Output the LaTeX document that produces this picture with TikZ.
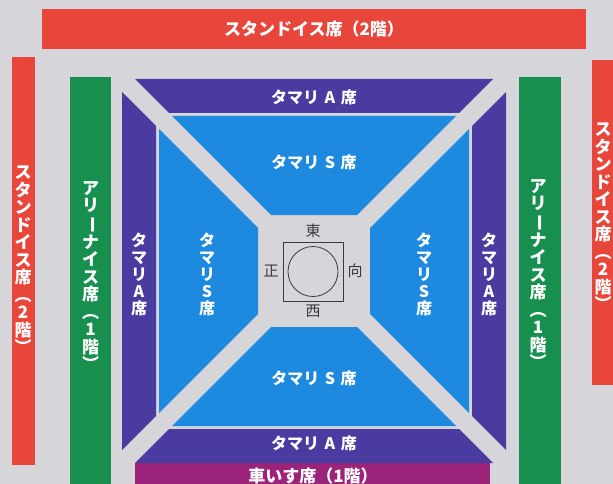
\documentclass[tikz,border=0pt]{standalone}
\usepackage{fontspec}
\newfontfamily\jp{Noto Sans CJK JP}
\definecolor{bg}{HTML}{D6D6DA}
\definecolor{stand}{HTML}{E8463B}
\definecolor{arena}{HTML}{17904F}
\definecolor{tamA}{HTML}{4A3BA1}
\definecolor{tamS}{HTML}{1D8ADF}
\definecolor{wheel}{HTML}{9B2379}
\definecolor{ring}{HTML}{3A3A3A}
\newcommand\cho{\rotatebox[origin=c]{-90}{ー}}
\begin{document}
\begin{tikzpicture}[x=1pt,y=-1pt,line join=round,
	lab/.style={text=white,inner sep=0,align=center,font=\jp\bfseries\fontsize{17}{17.5}\selectfont},
	tam/.style={lab,font=\jp\bfseries\fontsize{16}{17}\selectfont},
	dohyo/.style={text=ring,inner sep=0,font=\jp\fontsize{15}{15}\selectfont}]
	\clip (0,0) rectangle (613,484);
	\fill[bg] (0,0) rectangle (613,484);
	% stand, arena, wheelchair
	\fill[stand] (42,9) rectangle (586,49);
	\fill[stand] (12,57) rectangle (35,465);
	\fill[stand] (592,60) rectangle (620,385);
	\fill[arena] (70,77) rectangle (111,490);
	\fill[arena] (519,77) rectangle (561,490);
	\fill[wheel] (135,463) rectangle (490,490);
	% tamari blocks
	\begin{scope}[shift={(314,271)}]
		\foreach \a in {0,90,180,270}{
			\fill[tamA,rotate=\a] (-179,-192)--(179,-192)--(145,-158)--(-145,-158)--cycle;
			\fill[tamS,rotate=\a] (-142,-155)--(142,-155)--(43,-56)--(-43,-56)--cycle;
		}
	\end{scope}
	% dohyo
	\draw[ring,line width=.8pt] (283,242) rectangle (343,301);
	\draw[ring,line width=.8pt] (313,271.5) circle(25pt);
	\node[dohyo] (east) at (313,231) {東};
	\node[dohyo] (west) at (313,311) {西};
	\node[dohyo] (front) at (271,271) {正};
	\node[dohyo] (back) at (355,271) {向};
	% labels
	\node[lab] (standT) at (314,29) {スタンドイス席（2階）};
	\node[lab] (standL) at (23,260) {ス\\タ\\ン\\ド\\イ\\ス\\席\\︵\\2\\階\\︶};
	\node[lab] (standR) at (603,217) {ス\\タ\\ン\\ド\\イ\\ス\\席\\︵\\2\\階\\︶};
	\node[lab] (arenaL) at (90.5,276) {ア\\リ\\\cho\\ナ\\イ\\ス\\席\\︵\\1\\階\\︶};
	\node[lab] (arenaR) at (538,274) {ア\\リ\\\cho\\ナ\\イ\\ス\\席\\︵\\1\\階\\︶};
	\node[lab] (wheelB) at (313,476) {車いす席（1階）};
	\foreach \n/\y/\k in {AT/97/A,ST/162/S,SB/378/S,AB/443/A}
	\node[tam] (tam\n) at (314,\y) {タマリ\hspace{.35em}\k\hspace{.35em}席};
	\foreach \n/\x/\k in {AL/139/A,SL/207/S,SR/424/S,AR/489/A}
	\node[tam] (tamV\n) at (\x,274) {タ\\マ\\リ\\\k\\席};
\end{tikzpicture}
\end{document}
